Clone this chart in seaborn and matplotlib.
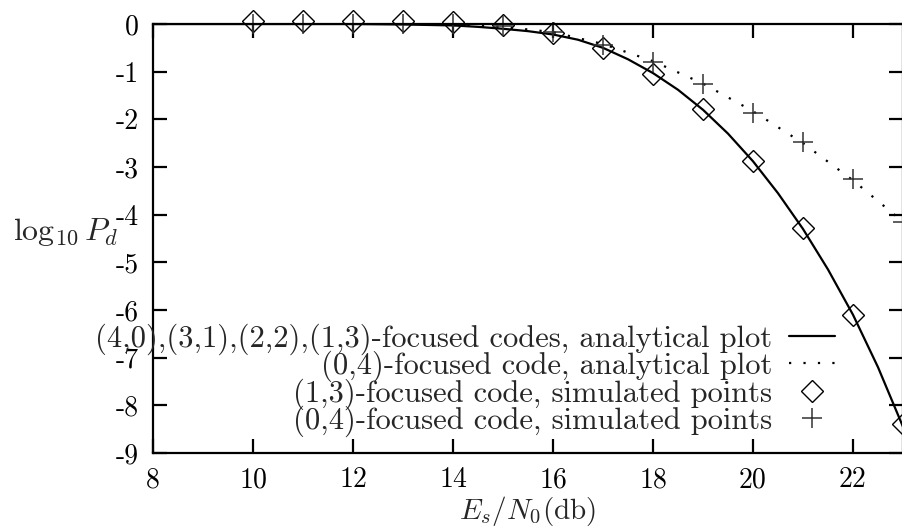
import matplotlib
matplotlib.use("Agg")
import matplotlib.pyplot as plt
import seaborn as sns
import pandas as pd

# ---- data ----
sim_x = [10, 11, 12, 13, 14, 15, 16, 17, 18, 19, 20, 21, 22, 23]
sim13_y = [0.07, 0.07, 0.07, 0.07, 0.05, -0.03, -0.19, -0.5, -1.05, -1.78, -2.87, -4.28, -6.1, -8.4]
sim04_y = [0.0, 0.0, 0.0, 0.0, 0.0, -0.04, -0.17, -0.44, -0.8, -1.26, -1.86, -2.48, -3.25, -4.15]

ana_x = [8, 12, 12.5, 13, 13.5, 14, 14.5, 15, 15.5, 16, 16.5, 17, 17.5, 18, 18.5, 19,
         19.5, 20, 20.5, 21, 21.5, 22, 22.5, 23]
ana13_y = [0.0, 0.0, -0.005, -0.01, -0.02, -0.03, -0.06, -0.1, -0.15, -0.22, -0.33, -0.5,
           -0.74, -1.03, -1.38, -1.8, -2.3, -2.88, -3.55, -4.3, -5.15, -6.1, -7.2, -8.45]
ana04_x = [14, 15, 16, 17, 18, 19, 20, 21, 22, 23]
ana04_y = [-0.02, -0.06, -0.17, -0.42, -0.78, -1.25, -1.83, -2.5, -3.28, -4.15]

x_ticks = [8, 10, 12, 14, 16, 18, 20, 22]
y_ticks = [0, -1, -2, -3, -4, -5, -6, -7, -8, -9]

labels = ["(4,0),(3,1),(2,2),(1,3)-focused codes, analytical plot",
          "(0,4)-focused code, analytical plot",
          "(1,3)-focused code, simulated points",
          "(0,4)-focused code, simulated points"]

sns.set_theme(style="ticks")
plt.rcParams["font.family"] = ["cmr10", "DejaVu Serif"]
plt.rcParams["mathtext.fontset"] = "cm"
plt.rcParams["axes.unicode_minus"] = False
plt.rcParams["axes.formatter.use_mathtext"] = False

fig = plt.figure(figsize=(9.03, 5.27), dpi=100)
ax = fig.add_axes([153 / 903, 1 - 453 / 527, 750 / 903, 429 / 527])

df_a13 = pd.DataFrame({"x": ana_x, "y": ana13_y})
df_a04 = pd.DataFrame({"x": ana04_x, "y": ana04_y})
df_s13 = pd.DataFrame({"x": sim_x, "y": sim13_y})
df_s04 = pd.DataFrame({"x": sim_x, "y": sim04_y})

sns.lineplot(data=df_a13, x="x", y="y", ax=ax, color="black", lw=1.6,
             estimator=None, sort=False)
sns.lineplot(data=df_a04, x="x", y="y", ax=ax, color="black", lw=1.6,
             linestyle=(0, (1, 5.5)), estimator=None, sort=False)
sns.lineplot(data=df_s13, x="x", y="y", ax=ax, color="black", linestyle="none",
             marker="D", markersize=11, markerfacecolor="none",
             markeredgecolor="black", markeredgewidth=1.0, estimator=None,
             sort=False, clip_on=False)
sns.lineplot(data=df_s04, x="x", y="y", ax=ax, color="#333333", linestyle="none",
             marker="+", markersize=15, markeredgecolor="#333333",
             markeredgewidth=1.1, estimator=None, sort=False, clip_on=False)

lines = ax.get_lines()
ax.legend(handles=lines[:4], labels=labels, loc="lower right",
          bbox_to_anchor=(0.909, 0.037), frameon=False, markerfirst=False,
          fontsize=22, handlelength=1.5, handletextpad=0.55, labelspacing=-0.13,
          borderpad=0, borderaxespad=0)

ax.set_xlim(8, 23)
ax.set_ylim(-9, 0)
ax.set_xticks(x_ticks)
ax.set_yticks(y_ticks)
ax.set_xticklabels([str(v) for v in x_ticks])
ax.set_yticklabels([str(v) for v in y_ticks])
ax.tick_params(axis="both", direction="in", length=10, width=1.6, labelsize=20,
               top=True, right=True, colors="black")
ax.tick_params(axis="x", pad=10)
ax.tick_params(axis="y", pad=10)
for s in ax.spines.values():
    s.set_visible(True)
    s.set_linewidth(1.6)
    s.set_color("black")

ax.set_xlabel(r"$E_s/N_0$(db)", fontsize=21)
ax.xaxis.set_label_coords(0.5, -0.135)
ax.xaxis.label.set_va("center")
ax.set_ylabel(r"$\log_{10} P_d$", fontsize=23, rotation=0, ha="center", va="center")
ax.yaxis.set_label_coords(-0.117, 0.515)

fig.savefig("out.png", dpi=100)
